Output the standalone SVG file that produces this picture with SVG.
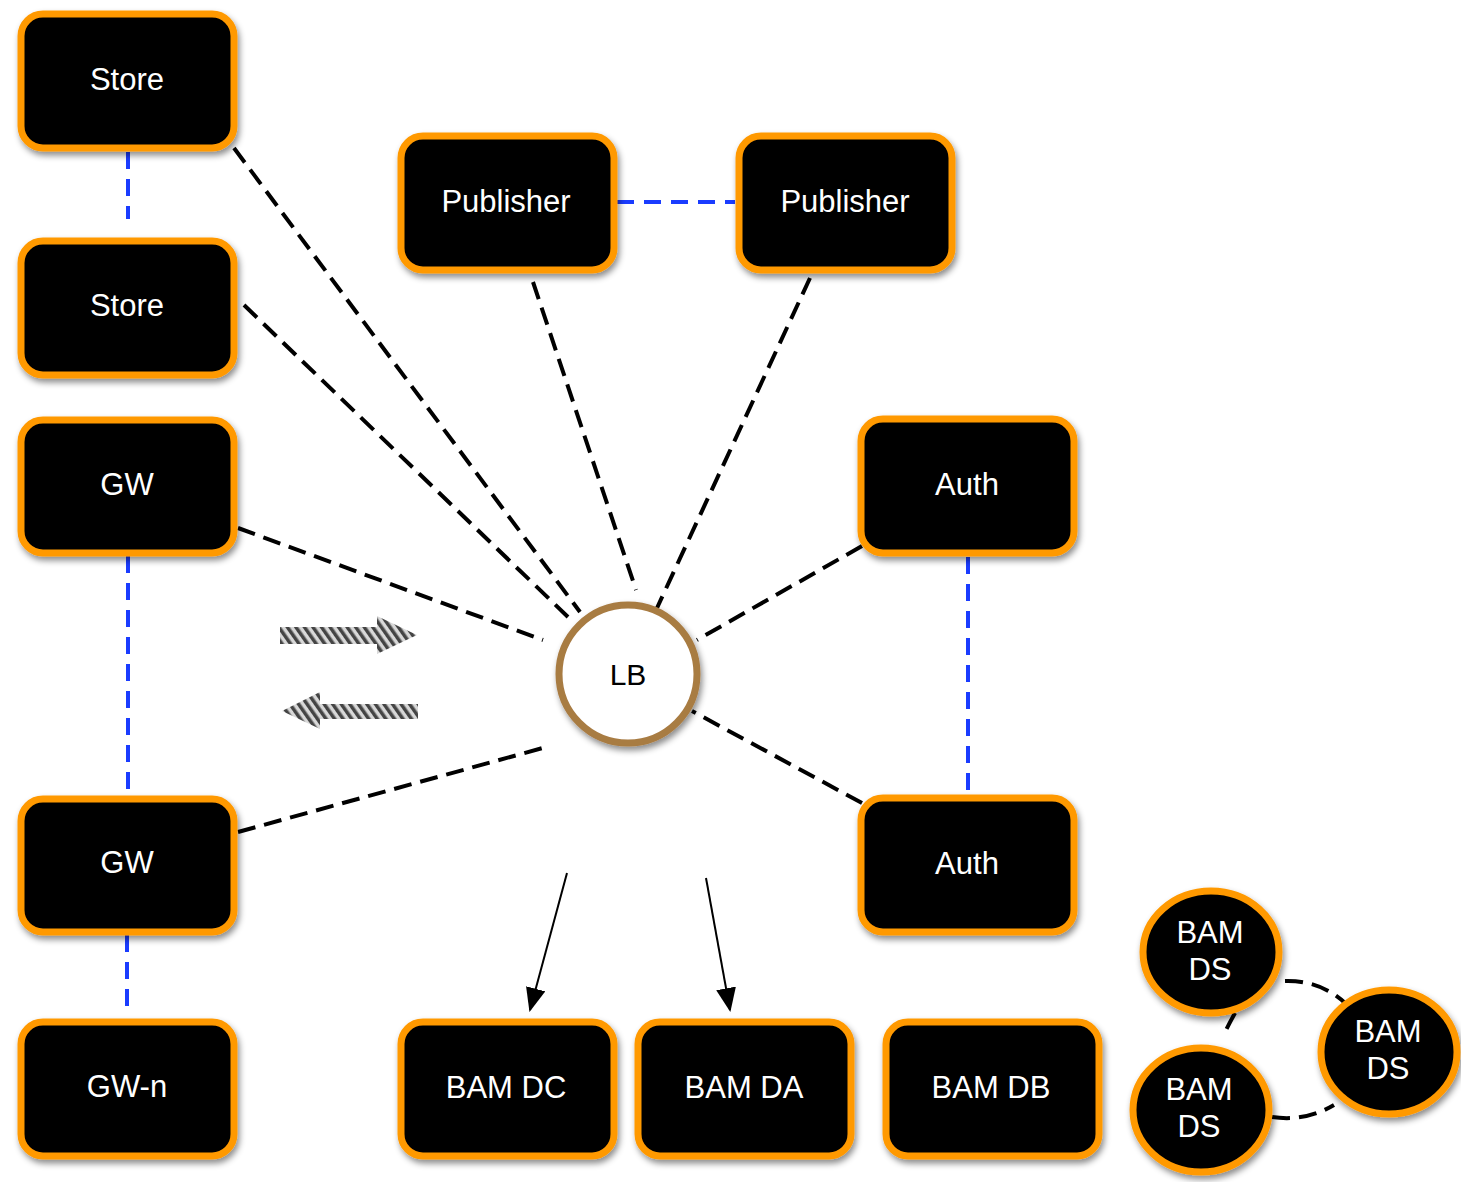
<svg xmlns="http://www.w3.org/2000/svg" width="1461" height="1182" viewBox="0 0 1461 1182">
<defs>
<filter id="sh" x="-20%" y="-20%" width="140%" height="140%">
<feDropShadow dx="2" dy="4" stdDeviation="3" flood-color="#000" flood-opacity="0.45"/>
</filter>
<pattern id="hatch" width="7" height="7" patternUnits="userSpaceOnUse" patternTransform="rotate(-35)">
<rect width="7" height="7" fill="#d8d8d8"/>
<rect width="3.5" height="7" fill="#444"/>
</pattern>
<marker id="ahb" viewBox="0 0 24 20" refX="22" refY="10" markerWidth="24" markerHeight="20" orient="auto" markerUnits="userSpaceOnUse">
<path d="M0,0 L24,10 L0,20 z" fill="#000"/>
</marker>
</defs>
<style>
.box{fill:#000;stroke:#FF9900;stroke-width:7;filter:url(#sh)}
.lbl{fill:#fff;font-family:"Liberation Sans",Arial,sans-serif;font-size:31px;text-anchor:middle}
.dk{fill:none;stroke:#000;stroke-width:4;stroke-dasharray:18 9}
.bl{fill:none;stroke:#1a3cff;stroke-width:4;stroke-dasharray:17 10}
.ar{fill:none;stroke:#000;stroke-width:2}
</style>
<rect width="1461" height="1182" fill="#fff"/>
<g id="connectors">
<line class="bl" x1="128" y1="152" x2="128" y2="219"/>
<line class="bl" x1="617" y1="202" x2="735" y2="202"/>
<line class="bl" x1="128" y1="556" x2="128" y2="795"/>
<line class="bl" x1="127" y1="935" x2="127" y2="1006"/>
<line class="bl" x1="968" y1="557" x2="968" y2="793"/>
<line class="dk" x1="234" y1="148" x2="580" y2="612"/>
<line class="dk" x1="244" y1="305" x2="568" y2="617"/>
<line class="dk" x1="238" y1="528" x2="543" y2="640"/>
<line class="dk" x1="238" y1="832" x2="550" y2="746"/>
<line class="dk" x1="533" y1="282" x2="636" y2="590"/>
<line class="dk" x1="810" y1="278" x2="657" y2="608"/>
<line class="dk" x1="862" y1="546" x2="697" y2="640"/>
<line class="dk" x1="862" y1="803" x2="692" y2="711"/>
<path class="dk" d="M1285,981 Q1320,980 1345,1003"/>
<path class="dk" d="M1272,1117 Q1305,1122 1334,1105"/>
<path class="dk" d="M1235,1013 Q1230,1022 1225,1032"/>
<line class="ar" x1="567" y1="873" x2="530" y2="1010" marker-end="url(#ahb)"/>
<line class="ar" x1="706" y1="878" x2="730" y2="1010" marker-end="url(#ahb)"/>
<path d="M280,627 L377,627 L377,616 L417,635 L377,654 L377,644 L280,644 z" fill="url(#hatch)"/>
<path d="M418,704 L320,704 L320,692 L282,711 L320,729 L320,719 L418,719 z" fill="url(#hatch)"/>
</g>
<g id="store1"><rect class="box" x="21" y="14" width="213" height="134" rx="22"/><text class="lbl" x="127" y="90">Store</text></g>
<g id="store2"><rect class="box" x="21" y="241" width="213" height="134" rx="22"/><text class="lbl" x="127" y="316">Store</text></g>
<g id="gw1"><rect class="box" x="21" y="420" width="213" height="133" rx="22"/><text class="lbl" x="127" y="495">GW</text></g>
<g id="gw2"><rect class="box" x="21" y="799" width="213" height="133" rx="22"/><text class="lbl" x="127" y="873">GW</text></g>
<g id="gwn"><rect class="box" x="21" y="1022" width="213" height="134" rx="22"/><text class="lbl" x="127" y="1097">GW-n</text></g>
<g id="pub1"><rect class="box" x="401" y="136" width="213" height="134" rx="22"/><text class="lbl" x="506" y="212">Publisher</text></g>
<g id="pub2"><rect class="box" x="739" y="136" width="213" height="134" rx="22"/><text class="lbl" x="845" y="212">Publisher</text></g>
<g id="auth1"><rect class="box" x="861" y="419" width="213" height="134" rx="22"/><text class="lbl" x="967" y="495">Auth</text></g>
<g id="auth2"><rect class="box" x="861" y="798" width="213" height="134" rx="22"/><text class="lbl" x="967" y="874">Auth</text></g>
<g id="bamdc"><rect class="box" x="401" y="1022" width="213" height="134" rx="22"/><text class="lbl" x="506" y="1098">BAM DC</text></g>
<g id="bamda"><rect class="box" x="638" y="1022" width="213" height="134" rx="22"/><text class="lbl" x="744" y="1098">BAM DA</text></g>
<g id="bamdb"><rect class="box" x="886" y="1022" width="213" height="134" rx="22"/><text class="lbl" x="991" y="1098">BAM DB</text></g>
<g id="lb"><circle cx="628" cy="674" r="69" fill="#fff" stroke="#A87B43" stroke-width="7" filter="url(#sh)"/><text x="628" y="685" font-family="Liberation Sans, Arial, sans-serif" font-size="30" text-anchor="middle" fill="#000">LB</text></g>
<g id="bamds1"><ellipse class="box" cx="1211" cy="952" rx="68" ry="61"/><text class="lbl" x="1210" y="943">BAM</text><text class="lbl" x="1210" y="980">DS</text></g>
<g id="bamds2"><ellipse class="box" cx="1389" cy="1052" rx="68" ry="62"/><text class="lbl" x="1388" y="1042">BAM</text><text class="lbl" x="1388" y="1079">DS</text></g>
<g id="bamds3"><ellipse class="box" cx="1201" cy="1110" rx="68" ry="62"/><text class="lbl" x="1199" y="1100">BAM</text><text class="lbl" x="1199" y="1137">DS</text></g>
</svg>
